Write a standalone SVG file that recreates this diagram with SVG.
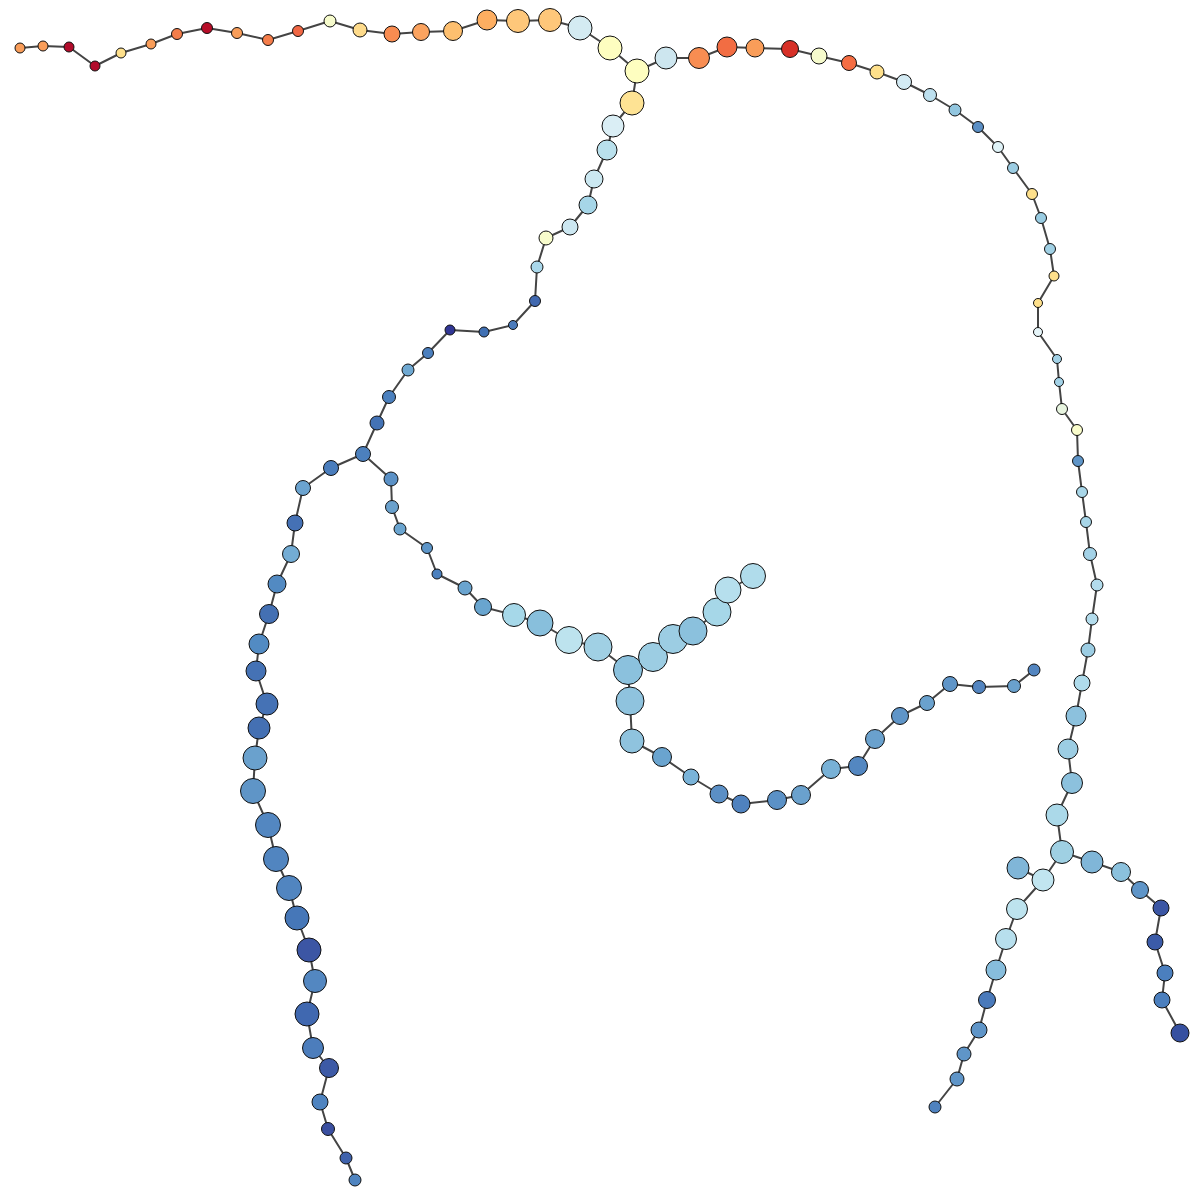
<svg xmlns="http://www.w3.org/2000/svg" width="1200" height="1200" viewBox="0 0 1200 1200">
<style>
.e{fill:none;stroke:#444;stroke-width:2;stroke-linejoin:round}
.n circle{stroke:#111;stroke-width:1}
</style>
<rect width="1200" height="1200" fill="#fff"/>
<g id="edges">
<polyline class="e" points="20,48 43,46 69,47 95,66 121,53 151,44 177,34 207,28 237,33 268,40 298,31 330,21 360,30 392,34 421,32 453,31 487,20 518,21 550,20 580,28 610,48 637,71"/>
<polyline class="e" points="637,71 666,58 699,58 727,47 755,48 790,49 819,56 849,63 877,72 904,82 930,95 955,110 978,127 998,147 1013,168 1032,194 1041,218 1050,249 1054,276 1038,303 1038,332 1057,359 1059,382 1062,409 1077,430 1078,461 1082,492 1086,522 1090,554 1097,585 1092,619 1088,650 1082,683 1076,716 1068,749 1072,783 1057,815 1062,852"/>
<polyline class="e" points="637,71 632,103 613,126 607,150 594,179 588,205 570,227 546,238 537,267 535,301 513,325 484,332 450,330 428,353 408,370 389,397 377,423 363,454"/>
<polyline class="e" points="363,454 331,468 303,488 295,523 291,554 277,584 269,614 259,644 256,671 267,704 259,728 255,758 253,791 268,825 276,859 289,888 297,918 309,950 315,981 307,1014 313,1048 329,1068 320,1102 328,1129 346,1158 355,1180"/>
<polyline class="e" points="363,454 391,479 392,507 400,529 427,548 437,574 465,588 483,607 514,615 540,623 569,640 598,647 628,670"/>
<polyline class="e" points="628,670 653,657 673,639 693,631 717,612 728,590 753,576"/>
<polyline class="e" points="628,670 630,701 632,741 662,757 691,777 719,794 741,804 777,800 801,795 831,769 858,766 875,739 900,716 927,703 950,684 979,687 1014,686 1034,670"/>
<polyline class="e" points="1062,852 1043,880 1017,909 1006,939 996,970 987,1000 979,1030 964,1054 957,1079 935,1107"/>
<line class="e" x1="1018" y1="868" x2="1043" y2="880"/>
<polyline class="e" points="1062,852 1092,862 1121,872 1140,890 1161,908 1155,942 1165,973 1162,1000 1180,1033"/>
</g>
<g class="n">
<g id="n1"><circle cx="20" cy="48" r="5" fill="#f99d59"/></g>
<g id="n2"><circle cx="43" cy="46" r="5" fill="#f99d59"/></g>
<g id="n3"><circle cx="69" cy="47" r="5" fill="#b10c2b"/></g>
<g id="n4"><circle cx="95" cy="66" r="5" fill="#b10c2b"/></g>
<g id="n5"><circle cx="121" cy="53" r="5" fill="#fee08b"/></g>
<g id="n6"><circle cx="151" cy="44" r="5" fill="#f99d59"/></g>
<g id="n7"><circle cx="177" cy="34" r="5.5" fill="#f47d4a"/></g>
<g id="n8"><circle cx="207" cy="28" r="5.5" fill="#b70d28"/></g>
<g id="n9"><circle cx="237" cy="33" r="5.5" fill="#f99d59"/></g>
<g id="n10"><circle cx="268" cy="40" r="5.5" fill="#f57d4a"/></g>
<g id="n11"><circle cx="298" cy="31" r="5.5" fill="#f06744"/></g>
<g id="n12"><circle cx="330" cy="21" r="6" fill="#f6fbcc"/></g>
<g id="n13"><circle cx="360" cy="30" r="7" fill="#fedb8b"/></g>
<g id="n14"><circle cx="392" cy="34" r="8" fill="#f88c51"/></g>
<g id="n15"><circle cx="421" cy="32" r="8.5" fill="#fba35f"/></g>
<g id="n16"><circle cx="453" cy="31" r="9.5" fill="#fdbf6f"/></g>
<g id="n17"><circle cx="487" cy="20" r="10" fill="#fdae61"/></g>
<g id="n18"><circle cx="518" cy="21" r="11.5" fill="#fec77a"/></g>
<g id="n19"><circle cx="550" cy="20" r="11.5" fill="#fec77a"/></g>
<g id="n20"><circle cx="580" cy="28" r="12" fill="#d4ebf2"/></g>
<g id="n21"><circle cx="610" cy="48" r="12" fill="#fefec0"/></g>
<g id="n22"><circle cx="637" cy="71" r="12" fill="#fefec0"/></g>
<g id="n23"><circle cx="666" cy="58" r="11" fill="#cde6ef"/></g>
<g id="n24"><circle cx="699" cy="58" r="10.5" fill="#f88d52"/></g>
<g id="n25"><circle cx="727" cy="47" r="10" fill="#f26d43"/></g>
<g id="n26"><circle cx="755" cy="48" r="9" fill="#f99d59"/></g>
<g id="n27"><circle cx="790" cy="49" r="8.5" fill="#d73027"/></g>
<g id="n28"><circle cx="819" cy="56" r="8" fill="#f6fbcc"/></g>
<g id="n29"><circle cx="849" cy="63" r="7.5" fill="#f46d43"/></g>
<g id="n30"><circle cx="877" cy="72" r="7" fill="#fee08b"/></g>
<g id="n31"><circle cx="632" cy="103" r="12" fill="#fee394"/></g>
<g id="n32"><circle cx="613" cy="126" r="11" fill="#daeef5"/></g>
<g id="n33"><circle cx="607" cy="150" r="10" fill="#b9e0ec"/></g>
<g id="n34"><circle cx="594" cy="179" r="9" fill="#cbe8f1"/></g>
<g id="n35"><circle cx="588" cy="205" r="9" fill="#a6d6e8"/></g>
<g id="n36"><circle cx="570" cy="227" r="8" fill="#cce7f1"/></g>
<g id="n37"><circle cx="546" cy="238" r="7" fill="#f8fccc"/></g>
<g id="n38"><circle cx="537" cy="267" r="6" fill="#a9d7ea"/></g>
<g id="n39"><circle cx="535" cy="301" r="5.5" fill="#4169b0"/></g>
<g id="n40"><circle cx="513" cy="325" r="4.5" fill="#4b7bbb"/></g>
<g id="n41"><circle cx="484" cy="332" r="5" fill="#4070b3"/></g>
<g id="n42"><circle cx="450" cy="330" r="5" fill="#313695"/></g>
<g id="n43"><circle cx="428" cy="353" r="5.5" fill="#4b7fbe"/></g>
<g id="n44"><circle cx="408" cy="370" r="6" fill="#6fa8d1"/></g>
<g id="n45"><circle cx="389" cy="397" r="6.5" fill="#4b80be"/></g>
<g id="n46"><circle cx="377" cy="423" r="7" fill="#4473b5"/></g>
<g id="n47"><circle cx="363" cy="454" r="7.5" fill="#4c80bd"/></g>
<g id="n48"><circle cx="331" cy="468" r="7.5" fill="#4a7dbc"/></g>
<g id="n49"><circle cx="303" cy="488" r="7.5" fill="#6ba3cf"/></g>
<g id="n50"><circle cx="295" cy="523" r="8" fill="#4571b5"/></g>
<g id="n51"><circle cx="291" cy="554" r="8.5" fill="#73acd4"/></g>
<g id="n52"><circle cx="277" cy="584" r="9" fill="#528ac2"/></g>
<g id="n53"><circle cx="269" cy="614" r="9.5" fill="#4470b3"/></g>
<g id="n54"><circle cx="259" cy="644" r="10" fill="#528bc3"/></g>
<g id="n55"><circle cx="256" cy="671" r="10" fill="#4572b5"/></g>
<g id="n56"><circle cx="267" cy="704" r="11" fill="#4572b5"/></g>
<g id="n57"><circle cx="259" cy="728" r="11" fill="#4470b3"/></g>
<g id="n58"><circle cx="255" cy="758" r="12" fill="#6aa1cd"/></g>
<g id="n59"><circle cx="253" cy="791" r="12.5" fill="#5f95c7"/></g>
<g id="n60"><circle cx="268" cy="825" r="12.5" fill="#5387c1"/></g>
<g id="n61"><circle cx="276" cy="859" r="12.5" fill="#5185c0"/></g>
<g id="n62"><circle cx="289" cy="888" r="12.5" fill="#5185c0"/></g>
<g id="n63"><circle cx="297" cy="918" r="12" fill="#4677b8"/></g>
<g id="n64"><circle cx="309" cy="950" r="12" fill="#3c56a4"/></g>
<g id="n65"><circle cx="315" cy="981" r="11.5" fill="#5387c1"/></g>
<g id="n66"><circle cx="307" cy="1014" r="12" fill="#4068b0"/></g>
<g id="n67"><circle cx="313" cy="1048" r="10.5" fill="#4c7dbc"/></g>
<g id="n68"><circle cx="329" cy="1068" r="9.5" fill="#3d5aa6"/></g>
<g id="n69"><circle cx="320" cy="1102" r="8" fill="#4f84c0"/></g>
<g id="n70"><circle cx="328" cy="1129" r="6.5" fill="#3a4fa0"/></g>
<g id="n71"><circle cx="346" cy="1158" r="6" fill="#3f62ac"/></g>
<g id="n72"><circle cx="355" cy="1180" r="6" fill="#4f84c0"/></g>
<g id="n73"><circle cx="391" cy="479" r="7" fill="#5b91c6"/></g>
<g id="n74"><circle cx="392" cy="507" r="6.5" fill="#6aa1cd"/></g>
<g id="n75"><circle cx="400" cy="529" r="6" fill="#6aa4cf"/></g>
<g id="n76"><circle cx="427" cy="548" r="5.5" fill="#5d95c8"/></g>
<g id="n77"><circle cx="437" cy="574" r="5" fill="#4b80be"/></g>
<g id="n78"><circle cx="465" cy="588" r="7" fill="#6aa4cf"/></g>
<g id="n79"><circle cx="483" cy="607" r="8.5" fill="#69a5cf"/></g>
<g id="n80"><circle cx="514" cy="615" r="11.5" fill="#a6d8e9"/></g>
<g id="n81"><circle cx="540" cy="623" r="13" fill="#88bfdc"/></g>
<g id="n82"><circle cx="569" cy="640" r="13.5" fill="#bde3ee"/></g>
<g id="n83"><circle cx="598" cy="647" r="14" fill="#a0d0e4"/></g>
<g id="n84"><circle cx="628" cy="670" r="14.5" fill="#8bc1dd"/></g>
<g id="n85"><circle cx="653" cy="657" r="14.5" fill="#9ccde3"/></g>
<g id="n86"><circle cx="673" cy="639" r="14.5" fill="#9ccde3"/></g>
<g id="n87"><circle cx="693" cy="631" r="14" fill="#8bc1dd"/></g>
<g id="n88"><circle cx="717" cy="612" r="14" fill="#a6d7e8"/></g>
<g id="n89"><circle cx="728" cy="590" r="13" fill="#b6dfed"/></g>
<g id="n90"><circle cx="753" cy="576" r="12.5" fill="#b0dceb"/></g>
<g id="n91"><circle cx="630" cy="701" r="14" fill="#8fc3de"/></g>
<g id="n92"><circle cx="632" cy="741" r="12" fill="#8fc3de"/></g>
<g id="n93"><circle cx="662" cy="757" r="9.5" fill="#6aa4cf"/></g>
<g id="n94"><circle cx="691" cy="777" r="8" fill="#7ab3d8"/></g>
<g id="n95"><circle cx="719" cy="794" r="9" fill="#5b8fc5"/></g>
<g id="n96"><circle cx="741" cy="804" r="9" fill="#4f82bf"/></g>
<g id="n97"><circle cx="777" cy="800" r="9.5" fill="#5b91c6"/></g>
<g id="n98"><circle cx="801" cy="795" r="9.5" fill="#6aa1cd"/></g>
<g id="n99"><circle cx="831" cy="769" r="9.5" fill="#78b1d6"/></g>
<g id="n100"><circle cx="858" cy="766" r="9.5" fill="#5387c1"/></g>
<g id="n101"><circle cx="875" cy="739" r="9.5" fill="#6aa1cd"/></g>
<g id="n102"><circle cx="900" cy="716" r="8.5" fill="#5f95c8"/></g>
<g id="n103"><circle cx="927" cy="703" r="7.5" fill="#6aa1cd"/></g>
<g id="n104"><circle cx="950" cy="684" r="7.5" fill="#5f95c8"/></g>
<g id="n105"><circle cx="979" cy="687" r="6.5" fill="#5385c0"/></g>
<g id="n106"><circle cx="1014" cy="686" r="6.5" fill="#6aa1cd"/></g>
<g id="n107"><circle cx="1034" cy="670" r="6" fill="#5385c0"/></g>
<g id="n108"><circle cx="904" cy="82" r="7.5" fill="#d4ebf4"/></g>
<g id="n109"><circle cx="930" cy="95" r="6.5" fill="#bde0ef"/></g>
<g id="n110"><circle cx="955" cy="110" r="6" fill="#92c6df"/></g>
<g id="n111"><circle cx="978" cy="127" r="5.5" fill="#5b8fc5"/></g>
<g id="n112"><circle cx="998" cy="147" r="5.5" fill="#e0f3f8"/></g>
<g id="n113"><circle cx="1013" cy="168" r="5.5" fill="#9ccde3"/></g>
<g id="n114"><circle cx="1032" cy="194" r="5.5" fill="#fee08b"/></g>
<g id="n115"><circle cx="1041" cy="218" r="5.5" fill="#99cce2"/></g>
<g id="n116"><circle cx="1050" cy="249" r="5.5" fill="#a0d0e4"/></g>
<g id="n117"><circle cx="1054" cy="276" r="5" fill="#fee08b"/></g>
<g id="n118"><circle cx="1038" cy="303" r="4.5" fill="#fee08b"/></g>
<g id="n119"><circle cx="1038" cy="332" r="4.5" fill="#e6f5f9"/></g>
<g id="n120"><circle cx="1057" cy="359" r="4.5" fill="#a3d2e7"/></g>
<g id="n121"><circle cx="1059" cy="382" r="4.5" fill="#a3d2e7"/></g>
<g id="n122"><circle cx="1062" cy="409" r="5.5" fill="#e8f5e0"/></g>
<g id="n123"><circle cx="1077" cy="430" r="5.5" fill="#fafdcc"/></g>
<g id="n124"><circle cx="1078" cy="461" r="5.5" fill="#5f95c8"/></g>
<g id="n125"><circle cx="1082" cy="492" r="5.5" fill="#a8d6e8"/></g>
<g id="n126"><circle cx="1086" cy="522" r="5.5" fill="#a8d6e8"/></g>
<g id="n127"><circle cx="1090" cy="554" r="6.5" fill="#a3d2e7"/></g>
<g id="n128"><circle cx="1097" cy="585" r="6" fill="#b3dcec"/></g>
<g id="n129"><circle cx="1092" cy="619" r="6" fill="#b3dcec"/></g>
<g id="n130"><circle cx="1088" cy="650" r="7" fill="#9ccde3"/></g>
<g id="n131"><circle cx="1082" cy="683" r="8" fill="#afdbeb"/></g>
<g id="n132"><circle cx="1076" cy="716" r="10" fill="#8cc1dd"/></g>
<g id="n133"><circle cx="1068" cy="749" r="10" fill="#9ccde3"/></g>
<g id="n134"><circle cx="1072" cy="783" r="10.5" fill="#8cc1dd"/></g>
<g id="n135"><circle cx="1057" cy="815" r="11" fill="#abd9e9"/></g>
<g id="n136"><circle cx="1062" cy="852" r="11.5" fill="#9fd0e3"/></g>
<g id="n137"><circle cx="1018" cy="868" r="11" fill="#80b6d8"/></g>
<g id="n138"><circle cx="1043" cy="880" r="11" fill="#c1e5f0"/></g>
<g id="n139"><circle cx="1017" cy="909" r="10.5" fill="#bde3ee"/></g>
<g id="n140"><circle cx="1006" cy="939" r="10.5" fill="#b7dfed"/></g>
<g id="n141"><circle cx="996" cy="970" r="10" fill="#87bddc"/></g>
<g id="n142"><circle cx="987" cy="1000" r="8.5" fill="#4a7abb"/></g>
<g id="n143"><circle cx="979" cy="1030" r="8" fill="#5f95c8"/></g>
<g id="n144"><circle cx="964" cy="1054" r="7" fill="#5f95c8"/></g>
<g id="n145"><circle cx="957" cy="1079" r="7" fill="#5f95c8"/></g>
<g id="n146"><circle cx="935" cy="1107" r="6" fill="#4f82bf"/></g>
<g id="n147"><circle cx="1092" cy="862" r="11" fill="#80b6d8"/></g>
<g id="n148"><circle cx="1121" cy="872" r="9.5" fill="#8bc1dd"/></g>
<g id="n149"><circle cx="1140" cy="890" r="8.5" fill="#5f95c8"/></g>
<g id="n150"><circle cx="1161" cy="908" r="8" fill="#3b56a4"/></g>
<g id="n151"><circle cx="1155" cy="942" r="8" fill="#3b5ba8"/></g>
<g id="n152"><circle cx="1165" cy="973" r="8" fill="#4b7fbe"/></g>
<g id="n153"><circle cx="1162" cy="1000" r="8" fill="#4b7fbe"/></g>
<g id="n154"><circle cx="1180" cy="1033" r="9" fill="#3650a0"/></g>
</g>
</svg>
